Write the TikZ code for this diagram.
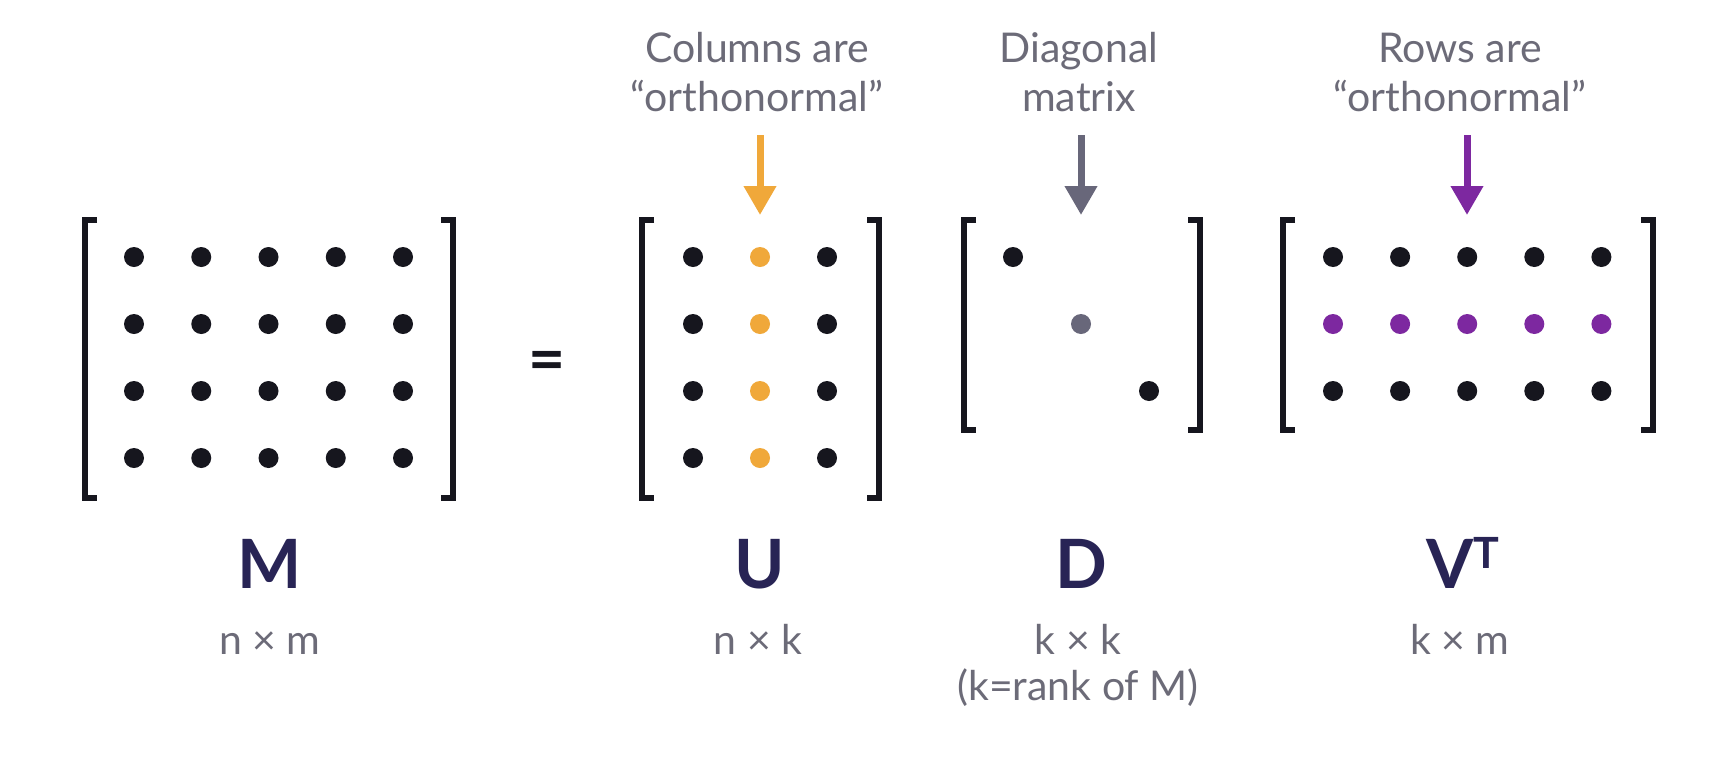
\documentclass[tikz,border=0pt]{standalone}
\usepackage{fontspec}
\setmainfont{Lato}
\usetikzlibrary{arrows.meta}
\definecolor{dotblack}{RGB}{22,22,30}
\definecolor{textgray}{RGB}{108,107,120}
\definecolor{arrgray}{RGB}{104,103,122}
\definecolor{orng}{RGB}{240,168,58}
\definecolor{purp}{RGB}{125,40,160}
\definecolor{navy}{RGB}{40,36,85}
\begin{document}
\begin{tikzpicture}[x=1pt,y=-1pt,
  dot/.style={circle,fill=dotblack,inner sep=0pt,minimum size=20pt},
  brk/.style={line width=6.5pt,draw=dotblack,line join=miter},
  arr/.style={line width=7pt,-{Triangle[length=29pt,width=31pt]}},
  small/.style={text=textgray,inner sep=0pt,align=center,font=\fontsize{41}{49}\selectfont},
  dims/.style={text=textgray,inner sep=0pt,align=center,font=\fontsize{41}{46}\selectfont},
  big/.style={text=navy,inner sep=0pt,font=\fontsize{68}{80}\selectfont\bfseries}]
\useasboundingbox (0,0) rectangle (1734,774);
\fill[white] (0,0) rectangle (1734,774);

% ---- M ----
\foreach \r in {1,...,4}
  \foreach \c in {1,...,5}
    \node[dot] (m\r\c) at ({134+67.25*(\c-1)},{257+67*(\r-1)}) {};
\draw[brk] (97,220) -- (85,220) -- (85,498) -- (97,498);
\draw[brk] (441,220) -- (453,220) -- (453,498) -- (441,498);
\node[big,anchor=base] (Mlab) at (270,588) {M};
\node[dims,anchor=base] (Mdim) at (270,654) {n × m};

% ---- = ----
\node[text=dotblack,inner sep=0pt,font=\fontsize{64}{70}\selectfont\bfseries] (eq) at (547,366) {=};

% ---- U ----
\foreach \r in {1,...,4}
  \foreach \c/\col in {1/dotblack,2/orng,3/dotblack}
    \node[dot,fill=\col] (u\r\c) at ({693+67*(\c-1)},{257+67*(\r-1)}) {};
\draw[brk] (654,220) -- (642,220) -- (642,498) -- (654,498);
\draw[brk] (867,220) -- (879,220) -- (879,498) -- (867,498);
\node[big,anchor=base] (Ulab) at (760,588) {U};
\node[dims,anchor=base] (Udim) at (758,654) {n × k};
\node[small,anchor=base] (Utxt) at (757,111) {Columns are\\“orthonormal”};
\coordinate (ua) at (760,135);
\coordinate (ub) at (760,215);
\draw[arr,orng] (ua) -- (ub);

% ---- D ----
\node[dot] (d1) at (1013,257) {};
\node[dot,fill=arrgray] (d2) at (1081,324) {};
\node[dot] (d3) at (1149,391) {};
\draw[brk] (976,220) -- (964,220) -- (964,430) -- (976,430);
\draw[brk] (1188,220) -- (1200,220) -- (1200,430) -- (1188,430);
\node[big,anchor=base] (Dlab) at (1081,588) {D};
\node[dims,anchor=base] (Ddim) at (1078,700) {k × k\\(k=rank of M)};
\node[small,anchor=base] (Dtxt) at (1079,111) {Diagonal\\matrix};
\coordinate (da) at (1081,135);
\coordinate (db) at (1081,215);
\draw[arr,arrgray] (da) -- (db);

% ---- V^T ----
\foreach \r/\col in {1/dotblack,2/purp,3/dotblack}
  \foreach \c in {1,...,5}
    \node[dot,fill=\col] (v\r\c) at ({1333+67.1*(\c-1)},{257+67*(\r-1)}) {};
\draw[brk] (1295,220) -- (1283,220) -- (1283,430) -- (1295,430);
\draw[brk] (1641,220) -- (1653,220) -- (1653,430) -- (1641,430);
\node[big,anchor=base] (Vlab) at (1463,588) {V\raisebox{20pt}{\fontsize{43}{50}\selectfont T}};
\node[dims,anchor=base] (Vdim) at (1460,654) {k × m};
\node[small,anchor=base] (Vtxt) at (1460,111) {Rows are\\“orthonormal”};
\coordinate (va) at (1467,135);
\coordinate (vb) at (1467,215);
\draw[arr,purp] (va) -- (vb);
\end{tikzpicture}
\end{document}
